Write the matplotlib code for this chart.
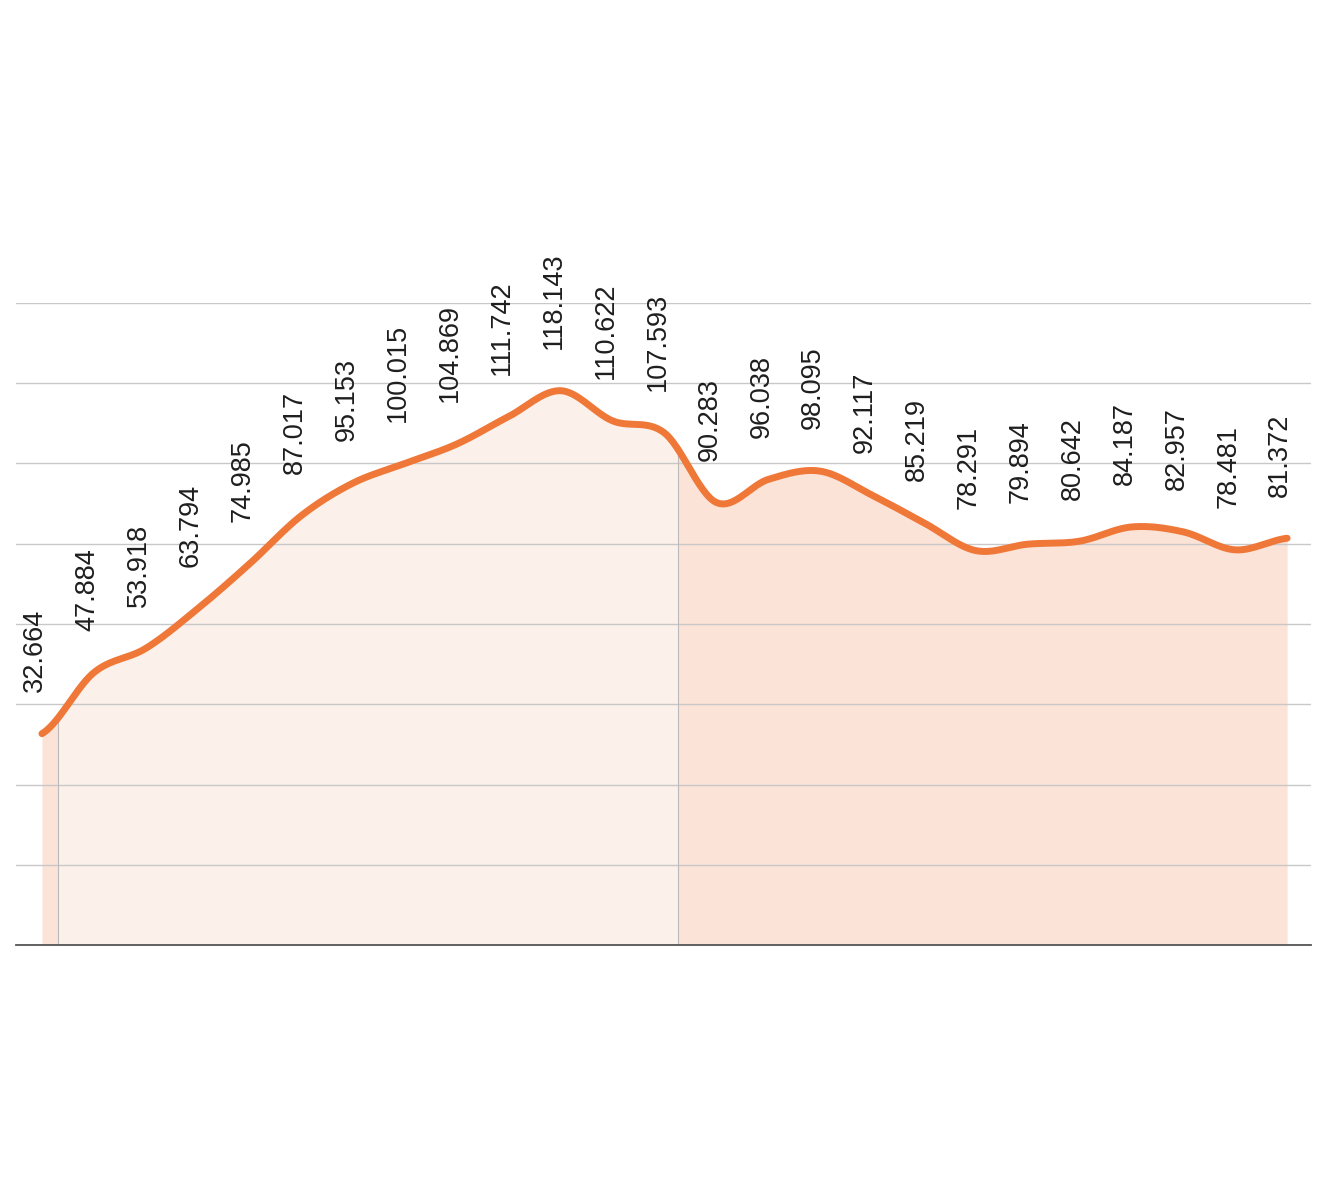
import matplotlib
matplotlib.use("Agg")
import matplotlib.pyplot as plt
import numpy as np

# values, one per point
values = [32.664, 47.884, 53.918, 63.794, 74.985, 87.017, 95.153, 100.015,
          104.869, 111.742, 118.143, 110.622, 107.593, 90.283, 96.038, 98.095,
          92.117, 85.219, 78.291, 79.894, 80.642, 84.187, 82.957, 78.481, 81.372]
labels = [f"{v:.3f}" for v in values]

LINE_COLOR = "#EF7839"
FILL_DARK = "#FCE3D7"
FILL_LIGHT = "#FBF0EA"
BAND = (0.3, 12.26)  # highlighted range, in x index units


def catmull_rom(y, samples=30):
    # uniform catmull-rom through every point, ends duplicated
    y = np.asarray(y, dtype=float)
    p = np.concatenate([[y[0]], y, [y[-1]]])
    xs, ys = [], []
    for i in range(len(y) - 1):
        p0, p1, p2, p3 = p[i], p[i + 1], p[i + 2], p[i + 3]
        t = np.linspace(0, 1, samples, endpoint=False)
        seg = 0.5 * ((2 * p1) + (-p0 + p2) * t
                     + (2 * p0 - 5 * p1 + 4 * p2 - p3) * t ** 2
                     + (-p0 + 3 * p1 - 3 * p2 + p3) * t ** 3)
        xs.append(i + t)
        ys.append(seg)
    xs.append([len(y) - 1])
    ys.append([y[-1]])
    return np.concatenate(xs), np.concatenate(ys)


x = np.arange(len(values))
xs, ys = catmull_rom(values)

fig = plt.figure(figsize=(13.2, 12), dpi=100)
ax = fig.add_axes([16 / 1320, 1 - 945 / 1200, 1295 / 1320, 642 / 1200])

ymin, ymax = -20, 140
ax.set_ylim(ymin, ymax)
ax.set_xlim(-0.5, 24.46)

ax.set_axisbelow(False)
ax.set_yticks(np.arange(ymin, ymax + 1, 20))
ax.grid(axis="y", color="#C8C8C8", linewidth=1.0, zorder=3.5)
ax.set_xticks([])
ax.tick_params(left=False, labelleft=False)
for s in ["top", "right", "left"]:
    ax.spines[s].set_visible(False)
ax.spines["bottom"].set_color("#555555")
ax.spines["bottom"].set_linewidth(1.3)
ax.spines["bottom"].set_zorder(5)

# area under the curve, with the lighter highlighted band on top
ax.fill_between(xs, ys, ymin, color=FILL_DARK, linewidth=0, zorder=1)
mask = (xs >= BAND[0]) & (xs <= BAND[1])
bx = np.concatenate([[BAND[0]], xs[mask], [BAND[1]]])
by = np.interp(bx, xs, ys)
ax.fill_between(bx, by, ymin, color=FILL_LIGHT, linewidth=0, zorder=2)
for b in BAND:
    ax.plot([b, b], [ymin, np.interp(b, xs, ys)], color="#BBBBBB",
            linewidth=0.8, zorder=3)

ax.plot(xs, ys, color=LINE_COLOR, linewidth=5, solid_capstyle="round",
        solid_joinstyle="round", zorder=4)

for xi, v, lab in zip(x, values, labels):
    ax.annotate(lab, (xi, v), xytext=(-5, 30), textcoords="offset points",
                rotation=90, ha="center", va="bottom", fontsize=19.5,
                family="Liberation Sans", color="#1E1E1E", annotation_clip=False)

fig.savefig("out.png", dpi=100)
